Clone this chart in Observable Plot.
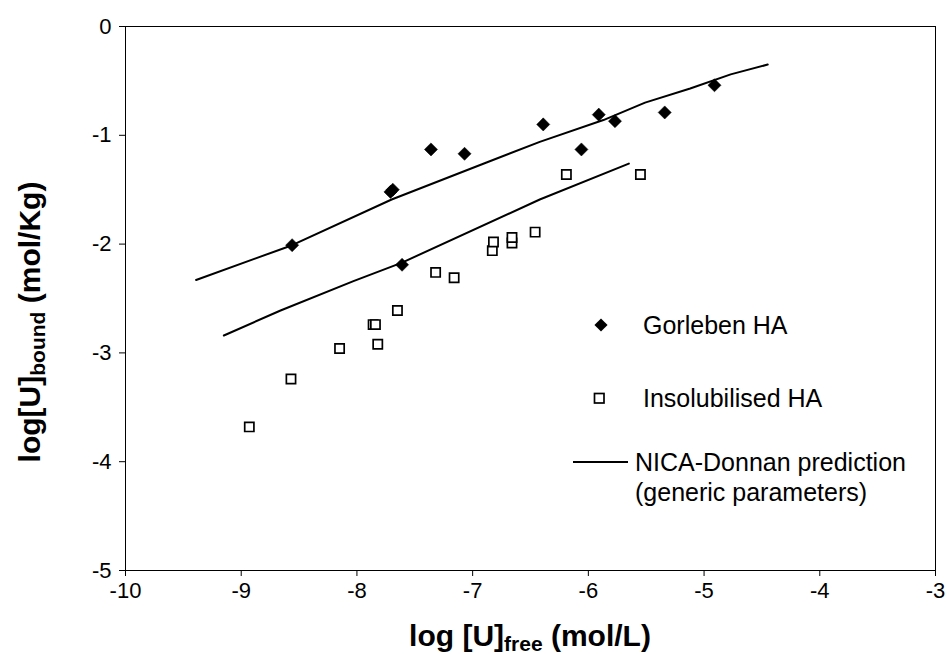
<!DOCTYPE html>
<html><head><meta charset="utf-8">
<script src="https://cdn.jsdelivr.net/npm/d3@7"></script>
<script src="https://cdn.jsdelivr.net/npm/@observablehq/plot@0.6"></script>
<style>
body{margin:0;background:#fff;}
#chart{position:relative;width:949px;height:654px;}
</style>
</head><body><div id="chart"></div>
<script>
// Gorleben HA (filled diamonds)
const gorlebenX = [-8.56, -7.71, -7.69, -7.36, -7.07, -7.61, -6.39, -6.06, -5.91, -5.77, -5.34, -4.91];
const gorlebenY = [-2.01, -1.52, -1.50, -1.13, -1.17, -2.19, -0.90, -1.13, -0.81, -0.87, -0.79, -0.54];
// Insolubilised HA (open squares)
const insolX = [-8.93, -8.57, -8.15, -7.82, -7.86, -7.84, -7.65, -7.32, -7.16, -6.83, -6.82, -6.66, -6.66, -6.46, -6.19, -5.55];
const insolY = [-3.68, -3.24, -2.96, -2.92, -2.74, -2.74, -2.61, -2.26, -2.31, -2.06, -1.98, -1.99, -1.94, -1.89, -1.36, -1.36];
// NICA-Donnan prediction curves
const nicaUpperX = [-9.39, -8.56, -7.70, -6.88, -6.42, -5.87, -5.51, -5.12, -4.77, -4.45];
const nicaUpperY = [-2.33, -2.01, -1.59, -1.25, -1.06, -0.86, -0.70, -0.57, -0.44, -0.35];
const nicaLowerX = [-9.15, -8.66, -8.03, -7.61, -6.42, -5.65];
const nicaLowerY = [-2.84, -2.61, -2.34, -2.17, -1.59, -1.26];
// ticks
const xTicks = [-10, -9, -8, -7, -6, -5, -4, -3];
const yTicks = [-5, -4, -3, -2, -1, 0];
// legend labels
const legendLabels = ["Gorleben HA", "Insolubilised HA", "NICA-Donnan prediction", "(generic parameters)"];

const gorleben = gorlebenX.map((x, i) => ({x, y: gorlebenY[i]}));
const insol = insolX.map((x, i) => ({x, y: insolY[i]}));
const upper = nicaUpperX.map((x, i) => ({x, y: nicaUpperY[i]}));
const lower = nicaLowerX.map((x, i) => ({x, y: nicaLowerY[i]}));

const FONT = "'Liberation Sans', Arial, sans-serif";

const plot = Plot.plot({
  width: 949,
  height: 654,
  marginLeft: 125,
  marginRight: 14,
  marginTop: 26,
  marginBottom: 84,
  style: {fontFamily: FONT, fontSize: "22px", color: "black", background: "white"},
  x: {domain: [-10, -3], label: null},
  y: {domain: [-5, 0], label: null},
  marks: [
    Plot.frame({stroke: "black", strokeWidth: 1}),
    Plot.axisX({ticks: xTicks, tickFormat: d => String(d), tickSize: 6, tickPadding: 6, label: null, fontSize: 22}),
    Plot.axisY({ticks: yTicks, tickFormat: d => String(d), tickSize: 6, tickPadding: 8, label: null, fontSize: 22}),
    Plot.line(upper, {x: "x", y: "y", stroke: "black", strokeWidth: 2, curve: "linear"}),
    Plot.line(lower, {x: "x", y: "y", stroke: "black", strokeWidth: 2, curve: "linear"}),
    Plot.dot(insol, {x: "x", y: "y", symbol: "square", r: 5.2, fill: "white", stroke: "black", strokeWidth: 1.7}),
    Plot.dot(gorleben, {x: "x", y: "y", symbol: "diamond2", r: 5.9, fill: "black", stroke: "black", strokeWidth: 0.5})
  ]
});

document.getElementById("chart").appendChild(plot);
const svg = d3.select(plot);

// Axis titles with subscripts
const xt = svg.append("text")
  .attr("x", 530).attr("y", 646)
  .attr("text-anchor", "middle")
  .style("font-family", FONT).style("font-weight", "bold").style("font-size", "30px").attr("fill", "black");
xt.append("tspan").text("log [U]");
xt.append("tspan").text("free").style("font-size", "21px").attr("dy", 5);
xt.append("tspan").text(" (mol/L)").attr("dy", -5);

const yt = svg.append("text")
  .attr("transform", "translate(40,322) rotate(-90)")
  .attr("text-anchor", "middle")
  .style("font-family", FONT).style("font-weight", "bold").style("font-size", "30px").attr("fill", "black");
yt.append("tspan").text("log[U]");
yt.append("tspan").text("bound").style("font-size", "21px").attr("dy", 5);
yt.append("tspan").text(" (mol/Kg)").attr("dy", -5);

// Legend
const lg = svg.append("g").style("font-family", FONT).style("font-size", "25px").attr("fill", "black").attr("text-anchor", "start");
lg.append("path").attr("d", d3.symbol(d3.symbolDiamond2, Math.PI * 5.9 * 5.9)()).attr("transform", "translate(601,325)").attr("fill", "black");
lg.append("text").attr("x", 643).attr("y", 325).attr("dy", "0.35em").attr("text-anchor", "start").text(legendLabels[0]);
lg.append("rect").attr("x", 594.5).attr("y", 393.5).attr("width", 9.5).attr("height", 9.5).attr("fill", "white").attr("stroke", "black").attr("stroke-width", 1.7);
lg.append("text").attr("x", 643).attr("y", 398).attr("dy", "0.35em").attr("text-anchor", "start").text(legendLabels[1]);
lg.append("line").attr("x1", 573).attr("x2", 628).attr("y1", 462).attr("y2", 462).attr("stroke", "black").attr("stroke-width", 2);
lg.append("text").attr("x", 635).attr("y", 462).attr("dy", "0.35em").attr("text-anchor", "start").text(legendLabels[2]);
lg.append("text").attr("x", 635).attr("y", 492).attr("dy", "0.35em").attr("text-anchor", "start").text(legendLabels[3]);
</script>
</body></html>
